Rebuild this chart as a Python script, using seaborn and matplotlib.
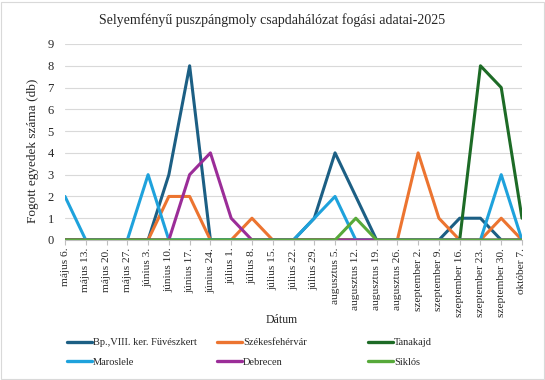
import pandas as pd
import matplotlib.pyplot as plt
import seaborn as sns
from matplotlib.patches import Rectangle

# Data
dates = ["május 6.", "május 13.", "május 20.", "május 27.", "június 3.", "június 10.",
         "június 17.", "június 24.", "július 1.", "július 8.", "július 15.", "július 22.",
         "július 29.", "augusztus 5.", "augusztus 12.", "augusztus 19.", "augusztus 26.",
         "szeptember 2.", "szeptember 9.", "szeptember 16.", "szeptember 23.",
         "szeptember 30.", "október 7."]

fuveszkert     = [0, 0, 0, 0, 0, 3, 8, 0, 0, 0, 0, 0, 1, 4, 2, 0, 0, 0, 0, 1, 1, 0, 0]
szekesfehervar = [0, 0, 0, 0, 0, 2, 2, 0, 0, 1, 0, 0, 0, 0, 0, 0, 0, 4, 1, 0, 0, 1, 0]
tanakajd       = [0, 0, 0, 0, 0, 0, 0, 0, 0, 0, 0, 0, 0, 0, 0, 0, 0, 0, 0, 0, 8, 7, 1]
maroslele      = [2, 0, 0, 0, 3, 0, 0, 0, 0, 0, 0, 0, 1, 2, 0, 0, 0, 0, 0, 0, 0, 3, 0]
debrecen       = [0, 0, 0, 0, 0, 0, 3, 4, 1, 0, 0, 0, 0, 0, 0, 0, 0, 0, 0, 0, 0, 0, 0]
siklos         = [0, 0, 0, 0, 0, 0, 0, 0, 0, 0, 0, 0, 0, 0, 1, 0, 0, 0, 0, 0, 0, 0, 0]

sites = ["Bp.,VIII. ker. Füvészkert", "Székesfehérvár", "Tanakajd",
         "Maroslele", "Debrecen", "Siklós"]
colors = ["#1c5f84", "#ec7430", "#1d6b26", "#1ea2dc", "#9b2d98", "#57a93a"]

series = [fuveszkert, szekesfehervar, tanakajd, maroslele, debrecen, siklos]
rows = []
for site, vals in zip(sites, series):
    for i, v in enumerate(vals):
        rows.append({"idx": i, "db": v, "hely": site})
df = pd.DataFrame(rows)

sns.set_style("white")
plt.rcParams["font.family"] = ["Liberation Serif", "DejaVu Serif"]

W, H = 545, 380
fig = plt.figure(figsize=(W / 100, H / 100), dpi=100)
ax = fig.add_axes([65 / W, 1 - 240 / H, (522 - 65) / W, (240 - 44) / H])

sns.lineplot(data=df, x="idx", y="db", hue="hely", hue_order=sites,
             palette=colors, linewidth=2.2, ax=ax, legend=False, sort=False)

ax.set_xlim(0, len(dates) - 1)
ax.set_ylim(0, 9)
ax.set_yticks(range(10))
ax.set_xticks(range(len(dates)))
ax.set_xticklabels(dates, rotation=90, fontsize=8.2)
ax.tick_params(axis="y", labelsize=9, length=0, pad=8)
ax.tick_params(axis="x", length=3.5, color="#bfbfbf", pad=2, bottom=True)
ax.grid(axis="y", color="#d9d9d9", linewidth=0.8)
ax.set_axisbelow(True)
for s in ["left", "right", "top"]:
    ax.spines[s].set_visible(False)
ax.spines["bottom"].set_color("#bfbfbf")
ax.spines["bottom"].set_linewidth(0.8)

ax.set_xlabel("Dátum", fontsize=8.5)
ax.xaxis.set_label_coords((282 - 65) / (522 - 65), -(314 - 240) / (240 - 44))
ax.set_ylabel("Fogott egyedek száma (db)", fontsize=9.5)
ax.yaxis.set_label_coords(-(65 - 39) / (522 - 65), (240 - 151) / (240 - 44))
fig.text(0.5, 1 - 20 / H, "Selyemfényű puszpángmoly csapdahálózat fogási adatai-2025",
         ha="center", va="center", fontsize=10)

# legend laid out like Excel: three fixed columns, two rows
handles = [plt.Line2D([], [], color=c, linewidth=2.4) for c in colors]
col_x = [67, 217, 368]
for k, x0 in enumerate(col_x):
    leg = fig.legend([handles[k], handles[k + 3]], [sites[k], sites[k + 3]],
                     loc="center left", bbox_to_anchor=(x0 / W, 1 - 352.5 / H),
                     frameon=False, fontsize=7.5, handlelength=2.4,
                     handletextpad=0.1, borderpad=0, borderaxespad=0,
                     labelspacing=1.0)

fig.patches.append(Rectangle((1 / W, 1 / H), 543 / W, 377 / H,
                             transform=fig.transFigure, fill=False,
                             edgecolor="#d9d9d9", linewidth=0.8))

fig.savefig("out.png", dpi=100)
